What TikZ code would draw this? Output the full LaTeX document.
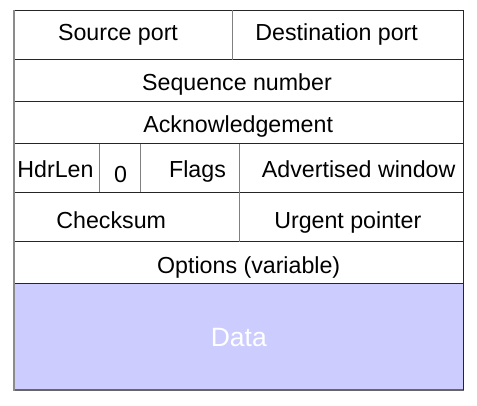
\documentclass[tikz,border=0pt]{standalone}
\usepackage{fontspec}
\setmainfont{Liberation Sans}
\definecolor{datafill}{RGB}{204,204,255}
\begin{document}
\begin{tikzpicture}[x=1pt,y=-1pt,
  hline/.style={draw=black!85,line width=1pt},
  vline/.style={draw=black!50,line width=1pt},
  edge/.style={draw=black!45,line width=1.4pt},
  lbl/.style={anchor=base,inner sep=0pt,font=\fontsize{23.2}{27}\selectfont,text=black}]
\useasboundingbox (0,0) rectangle (477,406);
\fill[datafill] (14,284) rectangle (463.5,390);
% horizontal rules
\foreach \y in {10.5,60,102,144,192.5,242,284}
  \draw[hline] (14,\y) -- (463.5,\y);
\draw[draw=black!60,line width=1.3pt] (14,390) -- (463.5,390);
% outer verticals
\draw[edge] (14,10.5) -- (14,390.5);
\draw[hline] (463.5,10.5) -- (463.5,390);
% inner dividers
\draw[vline] (232,10.5) -- (232,60);
\draw[vline] (99,144) -- (99,192.5);
\draw[vline] (140.7,144) -- (140.7,192.5);
\draw[vline] (239,144) -- (239,242);
% labels
\node[lbl] (src) at (118,40.7) {Source port};
\node[lbl] (dst) at (336.7,40.7) {Destination port};
\node[lbl] (seq) at (237,91) {Sequence number};
\node[lbl] (ack) at (238.2,132.7) {Acknowledgement};
\node[lbl] (hdr) at (55.5,177.7) {HdrLen};
\node[lbl] (zero) at (120.5,182.7) {0};
\node[lbl] (flags) at (197.5,178) {Flags};
\node[lbl] (adv) at (358.7,178) {Advertised window};
\node[lbl] (chk) at (111.2,228.3) {Checksum};
\node[lbl] (urg) at (347.8,228.3) {Urgent pointer};
\node[lbl] (opt) at (248.7,273.3) {Options (variable)};
\node[lbl,text=white,font=\fontsize{26.5}{30}\selectfont] (data) at (238.8,346.7) {Data};
\end{tikzpicture}
\end{document}
